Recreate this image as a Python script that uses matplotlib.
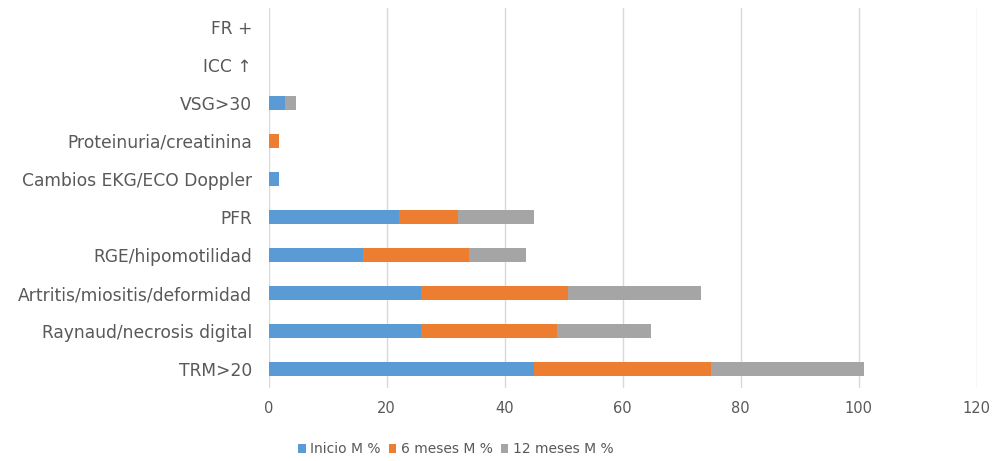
import matplotlib
matplotlib.use("Agg")
import matplotlib.pyplot as plt
import numpy as np

categories = ["TRM>20", "Raynaud/necrosis digital", "Artritis/miositis/deformidad",
              "RGE/hipomotilidad", "PFR", "Cambios EKG/ECO Doppler",
              "Proteinuria/creatinina", "VSG>30", "ICC \u2191", "FR +"]
inicio = [45.0, 25.8, 25.8, 15.9, 22.1, 1.8, 0.0, 2.8, 0.0, 0.0]
seis_meses = [30.0, 23.0, 25.0, 18.0, 9.9, 0.0, 1.8, 0.0, 0.0, 0.0]
doce_meses = [25.9, 16.0, 22.4, 9.7, 13.0, 0.0, 0.0, 1.9, 0.0, 0.0]
series_names = ["Inicio M %", "6 meses M %", "12 meses M %"]
colors = ["#5B9BD5", "#ED7D31", "#A5A5A5"]

plt.rcParams["font.family"] = ["DejaVu Sans"]
fig = plt.figure(figsize=(9.97, 4.61), dpi=100)
ax = fig.add_axes([0.2695, 0.158, 0.7102, 0.825])

y = np.arange(len(categories))
left = np.zeros(len(categories))
for vals, name, c in zip([inicio, seis_meses, doce_meses], series_names, colors):
    ax.barh(y, vals, left=left, height=0.38, color=c, label=name, zorder=3)
    left += np.array(vals)

ax.set_xlim(0, 120)
ax.set_ylim(-0.5, len(categories) - 0.5)
ax.set_xticks(np.arange(0, 121, 20))
ax.set_yticks(y)
ax.set_yticklabels(categories)
ax.xaxis.grid(True, color="#d9d9d9", linewidth=1, zorder=0)
ax.yaxis.grid(False)
for s in ax.spines.values():
    s.set_visible(False)
ax.tick_params(axis="both", length=0, labelcolor="#595959")
ax.tick_params(axis="x", pad=9, labelsize=10.5)
ax.tick_params(axis="y", pad=12, labelsize=12.3)

fig.legend(loc="lower center", bbox_to_anchor=(0.457, -0.017), ncol=3, frameon=False,
           fontsize=10, labelcolor="#595959", handlelength=0.55, handleheight=0.55,
           handletextpad=0.3, columnspacing=0.6)

fig.savefig("out.png", dpi=100)
